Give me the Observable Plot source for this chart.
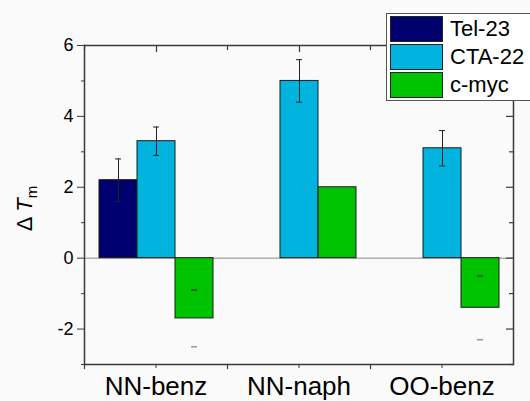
<!DOCTYPE html>
<html><head><meta charset="utf-8">
<script src="https://cdn.jsdelivr.net/npm/d3@7"></script>
<script src="https://cdn.jsdelivr.net/npm/@observablehq/plot@0.6"></script>
<style>
html,body{margin:0;padding:0;background:#fafafa;overflow:hidden;}
#wrap{position:relative;width:530px;height:401px;font-family:"Liberation Sans",Arial,sans-serif;}
#legend{position:absolute;left:386px;top:13px;width:170px;background:#fff;border:1px solid #555;padding:1px 0 1px 3px;}
.row{display:flex;align-items:center;height:28px;}
.sw{width:53px;height:26px;border:1px solid #222;box-sizing:border-box;margin-right:7px;}
.lab{font-size:22px;color:#000;line-height:1;}
</style></head><body><div id="wrap"></div>
<script>
const categories = ["NN-benz", "NN-naph", "OO-benz"];
const series = ["Tel-23", "CTA-22", "c-myc"];
const colors = ["#00006e", "#00b4df", "#00c300"];
const tel23 = [2.2, null, null];
const tel23Err = [0.6, null, null];
const cta22 = [3.3, 5.0, 3.1];
const cta22Err = [0.4, 0.6, 0.5];
const cmyc = [-1.7, 2.0, -1.4];
const cmycErr = [0.8, null, 0.9];
const yMajorTicks = [-2, 0, 2, 4, 6];
const yMinorTicks = [-3, -1, 1, 3, 5];
const yTitle = "ΔTm";

const values = [tel23, cta22, cmyc];
const errs = [tel23Err, cta22Err, cmycErr];
const rows = [];
series.forEach((s, i) => categories.forEach((c, j) => {
  if (values[i][j] != null) rows.push({cat: c, series: s, value: values[i][j], err: errs[i][j]});
}));
const errRows = rows.filter(d => d.err != null);
const lineErr = errRows.filter(d => d.series !== "c-myc");
const capErr = errRows.filter(d => d.series === "c-myc");
const midSeries = series[1];
const axisColor = "#3a3a3a";

const W = 530, H = 401, mL = 84, mR = 17, mT = 45, mB = 37;

const chart = Plot.plot({
  width: W, height: H,
  marginLeft: mL, marginRight: mR, marginTop: mT, marginBottom: mB,
  style: {background: "transparent", fontFamily: "'Liberation Sans', Arial, sans-serif", color: "#000"},
  fx: {domain: categories, paddingInner: 0, paddingOuter: 0, label: null},
  x: {domain: series, paddingInner: 0, paddingOuter: 0.37, axis: null},
  y: {domain: [-3, 6], label: null},
  color: {domain: series, range: colors},
  marks: [
    Plot.ruleY([0], {stroke: "#8a8a8a", strokeWidth: 1}),
    Plot.barY(rows, {fx: "cat", x: "series", y: "value", fill: "series", stroke: "#1a1a1a", strokeWidth: 1}),
    Plot.ruleX(lineErr, {fx: "cat", x: "series", y1: d => d.value - d.err, y2: d => d.value + d.err, stroke: "#222", strokeWidth: 1}),
    Plot.tickY(lineErr, {fx: "cat", x: "series", y: d => d.value + d.err, inset: 16, stroke: "#222"}),
    Plot.tickY(lineErr, {fx: "cat", x: "series", y: d => d.value - d.err, inset: 16, stroke: "#222"}),
    Plot.tickY(capErr, {fx: "cat", x: "series", y: d => d.value + d.err, inset: 16, stroke: "#2e4a2e", strokeWidth: 1.5}),
    Plot.tickY(capErr, {fx: "cat", x: "series", y: d => d.value - d.err, inset: 16, stroke: "#999", strokeWidth: 1.5}),
    // frame box
    Plot.ruleY([6, -3], {stroke: axisColor, strokeWidth: 1.3}),
    Plot.frame({anchor: "left", facetAnchor: "left", stroke: axisColor, strokeWidth: 1.5}),
    Plot.frame({anchor: "right", facetAnchor: "right", stroke: axisColor, strokeWidth: 1.5}),
    // right axis inward ticks
    Plot.tickY(yMajorTicks, {y: d => d, facetAnchor: "right", insetLeft: 136, stroke: axisColor, strokeWidth: 1.2}),
    Plot.tickY(yMinorTicks, {y: d => d, facetAnchor: "right", insetLeft: 139, stroke: axisColor, strokeWidth: 1.2}),
    // top inward ticks at category centres, and at group boundaries
    Plot.tickX(categories, {fx: d => d, x: () => midSeries, insetBottom: 312, stroke: axisColor, strokeWidth: 1.2}),
    Plot.frame({anchor: "left", insetBottom: 315, stroke: axisColor, strokeWidth: 1.2}),
    Plot.frame({anchor: "left", insetTop: 319, insetBottom: -4, stroke: axisColor, strokeWidth: 1.2}),
    // left axis
    Plot.axisY({anchor: "left", ticks: yMajorTicks, tickSize: 7, tickPadding: 4, fontSize: 18, tickFormat: d => String(d), label: null, stroke: axisColor}),
    Plot.axisY({anchor: "left", ticks: yMinorTicks, tickSize: 3, tickFormat: () => "", label: null, stroke: axisColor}),
    Plot.text([yTitle], {frameAnchor: "left", facetAnchor: "left", dx: -60, fontSize: 22, text: d => d}),
    // bottom category axis
    Plot.axisFx({anchor: "bottom", tickSize: 4, tickPadding: 8, fontSize: 26, label: null, stroke: axisColor})
  ]
});

const wrap = document.getElementById("wrap");
wrap.appendChild(chart);

// y tick labels: make sure they use the larger size
chart.querySelectorAll('g[aria-label="y-axis tick label"]').forEach(g => {
  g.setAttribute("font-size", 18);
  g.querySelectorAll("text").forEach(t => t.setAttribute("font-size", 18));
});

// Style the y title: Δ T(italic) m(subscript), rotated
chart.querySelectorAll("text").forEach(t => {
  if (t.textContent === yTitle) {
    t.textContent = "";
    const ns = "http://www.w3.org/2000/svg";
    const a = document.createElementNS(ns, "tspan"); a.textContent = "Δ ";
    const b = document.createElementNS(ns, "tspan"); b.textContent = "T"; b.setAttribute("font-style", "italic");
    const c = document.createElementNS(ns, "tspan"); c.textContent = "m"; c.setAttribute("font-size", 15); c.setAttribute("dy", "0.35em");
    t.append(a, b, c);
    ["x", "y", "dx", "dy"].forEach(k => t.removeAttribute(k));
    t.setAttribute("text-anchor", "middle");
    t.setAttribute("font-size", 22);
    t.setAttribute("fill", "#000");
    t.setAttribute("font-family", "'Liberation Sans', Arial, sans-serif");
    t.setAttribute("transform", `translate(${mL - 60},${(mT + H - mB) / 2 + 4}) rotate(-90)`);
    t.setAttribute("dy", "0.35em");
    let p = t.parentNode;
    while (p && p !== chart) { if (p.getAttribute && p.getAttribute("transform")) { chart.appendChild(t); break; } p = p.parentNode; }
  }
});

// Legend
const legend = document.createElement("div");
legend.id = "legend";
series.forEach((s, i) => {
  const r = document.createElement("div"); r.className = "row";
  const sw = document.createElement("div"); sw.className = "sw"; sw.style.background = colors[i];
  const l = document.createElement("span"); l.className = "lab"; l.textContent = s;
  r.append(sw, l); legend.appendChild(r);
});
wrap.appendChild(legend);
</script></body></html>
